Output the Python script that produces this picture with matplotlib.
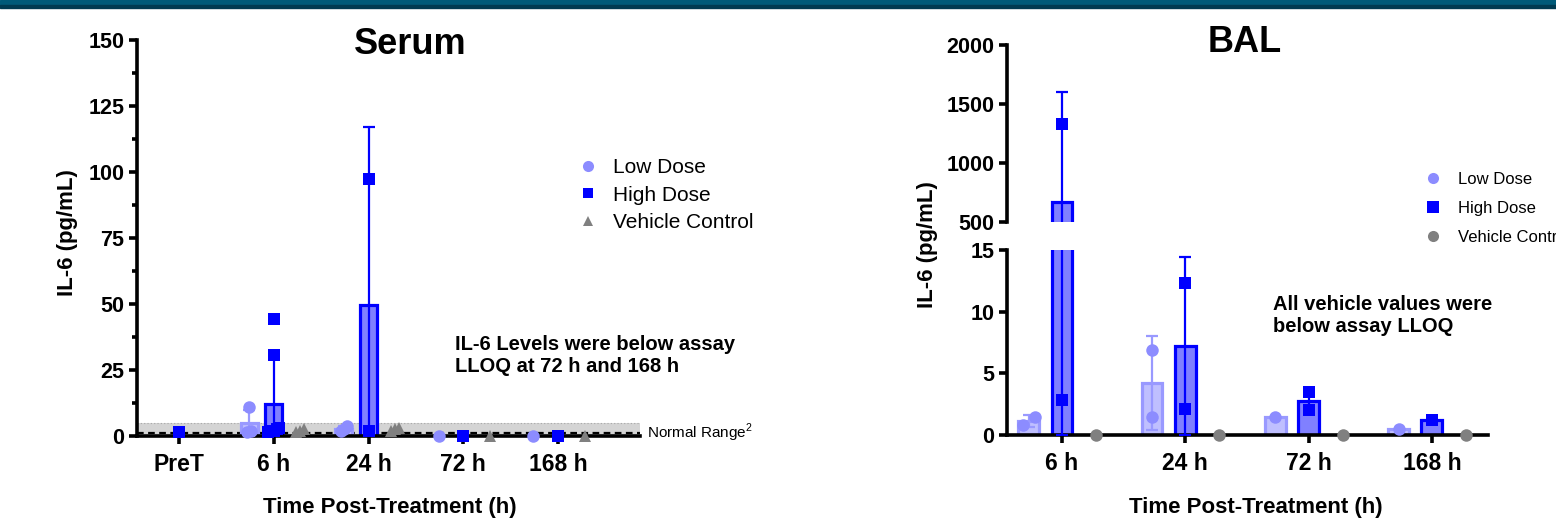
import numpy as np
import matplotlib
matplotlib.use("Agg")
import matplotlib.pyplot as plt
from matplotlib.lines import Line2D
from matplotlib.patches import Rectangle

plt.rcParams["font.family"] = ["Liberation Sans", "DejaVu Sans"]
plt.rcParams["mathtext.fontset"] = "custom"
plt.rcParams["mathtext.rm"] = "Liberation Sans"

W, H = 1556, 520

# ---- Serum data (pg/mL) ----
serum_cats = ["PreT", "6 h", "24 h", "72 h", "168 h"]
serum_pret = [1.5]
serum_low = [[10.8, 2.0, 1.5], [3.8, 2.5, 1.8], [0.0], [0.0]]
serum_high = [[44.2, 30.7, 3.0, 2.5, 2.0, 2.0, 1.5], [97.2, 2.0], [0.0], [0.0]]
serum_vehicle = [[2.8, 2.0, 1.5], [3.0, 2.5, 2.0], [0.0], [0.0]]
normal_range_top = 4.9
lloq_serum = 1.2

# ---- BAL data (pg/mL) ----
bal_cats = ["6 h", "24 h", "72 h", "168 h"]
bal_low = [[0.8, 1.5], [6.9, 1.5], [1.45], [0.5]]
bal_high = [[1330.0, 2.8], [12.3, 2.1], [3.5, 2.0], [1.2]]
bal_vehicle = [[0.0], [0.0], [0.0], [0.0]]

LOW_C = "#8c8cff"
LOW_FILL = "#bfbfff"
LOW_EDGE = "#9999ff"
HIGH_C = "#0000ff"
HIGH_FILL = "#8080ff"
VEH_C = "#808080"


def stats(vals):
    v = np.asarray(vals, dtype=float)
    sd = v.std(ddof=1) if len(v) > 1 else 0.0
    return v.mean(), sd


def spread(vals, tol, step):
    # nudge points sideways when they would overlap
    v = np.asarray(vals, dtype=float)
    order = np.argsort(v)
    offs = np.zeros(len(v))
    groups = [[order[0]]]
    for i in order[1:]:
        if v[i] - v[groups[-1][-1]] < tol:
            groups[-1].append(i)
        else:
            groups.append([i])
    for g in groups:
        n = len(g)
        for k, idx in enumerate(g):
            offs[idx] = (k - (n - 1) / 2) * step
    return offs


def style_axis(ax):
    for s in ["top", "right"]:
        ax.spines[s].set_visible(False)
    for s in ["left", "bottom"]:
        ax.spines[s].set_linewidth(2.6)
    ax.tick_params(axis="both", which="major", width=2.6, length=6, direction="out")
    ax.tick_params(axis="both", which="minor", width=2.6, length=3.5, direction="out")
    ax.tick_params(axis="y", labelsize=15.5, pad=3)
    ax.tick_params(axis="x", labelsize=16.5, pad=6)
    for lab in ax.get_xticklabels() + ax.get_yticklabels():
        lab.set_fontweight("bold")


def draw_group(axes, x, vals, width, fill, edge, ecol, pcol, marker, ms, tol, step, bar=True, elw=1.6):
    m, sd = stats(vals)
    offs = spread(vals, tol, step)
    for ax in axes:
        if bar:
            ax.bar(x, m, width, color=fill, edgecolor=edge, linewidth=2.3, zorder=2)
            if sd > 0:
                ax.errorbar(x, m, yerr=[[min(sd, m)], [sd]], fmt="none", ecolor=ecol,
                            elinewidth=elw, capsize=4.5, capthick=elw, zorder=3)
        ax.plot(x + offs, vals, ls="none", marker=marker, ms=ms, color=pcol,
                markeredgewidth=0, zorder=4, clip_on=False)


fig = plt.figure(figsize=(W / 100, H / 100), dpi=100)

# header band
fig.patches.append(Rectangle((0, 1 - 5 / H), 1, 5 / H, transform=fig.transFigure,
                             color="#005a78", zorder=0))
fig.patches.append(Rectangle((0, 1 - 7.5 / H), 1, 2.5 / H, transform=fig.transFigure,
                             color="#003a50", zorder=0))

# ================= Serum =================
ax = fig.add_axes([137 / W, 1 - 436 / H, (640 - 137) / W, (436 - 40) / H])
ax.set_xlim(-0.443, 4.865)
ax.set_ylim(0, 150)
ax.set_yticks(np.arange(0, 151, 25))
ax.set_yticks(np.arange(12.5, 150, 25), minor=True)
ax.set_xticks(range(len(serum_cats)))
ax.set_xticklabels(serum_cats)
style_axis(ax)

ax.axhspan(0, normal_range_top, color="#d4d4d4", zorder=0, lw=0)
ax.axhline(normal_range_top, color="#a8a8a8", lw=0.8, ls=(0, (1, 2)), zorder=1)
ax.axhline(lloq_serum, color="black", lw=1.6, ls=(0, (3, 2)), zorder=1)

off_s = 0.26
bw_s = 0.18
ax.plot(np.zeros(len(serum_pret)), serum_pret, ls="none", marker="s", ms=9,
        color=HIGH_C, markeredgewidth=0, zorder=4, clip_on=False)
for i in range(4):
    x0 = i + 1
    draw_group([ax], x0 - off_s, serum_low[i], bw_s, LOW_FILL, LOW_EDGE, LOW_EDGE, LOW_C, "o", 9, 3, 0.035)
    draw_group([ax], x0, serum_high[i], bw_s, HIGH_FILL, HIGH_C, HIGH_C, HIGH_C, "s", 8.5, 3, 0.03)
    draw_group([ax], x0 + off_s + 0.02, serum_vehicle[i], bw_s, None, None, None, VEH_C, "^", 9, 3, 0.04, bar=False)

ax.legend(handles=[
    Line2D([], [], ls="none", marker="o", ms=8, color=LOW_C, markeredgewidth=0, label="Low Dose"),
    Line2D([], [], ls="none", marker="s", ms=7.5, color=HIGH_C, markeredgewidth=0, label="High Dose"),
    Line2D([], [], ls="none", marker="^", ms=7.5, color=VEH_C, markeredgewidth=0, label="Vehicle Control"),
], loc="upper left", bbox_to_anchor=(578 / W, 1 - 158 / H), bbox_transform=fig.transFigure,
    frameon=False, fontsize=15, handlelength=1.0, handletextpad=0.7, labelspacing=0.42,
    borderpad=0, borderaxespad=0)

fig.text(410 / W, 1 - 45 / H, "Serum", fontsize=26, fontweight="bold", ha="center", va="center")
fig.text(67 / W, 1 - 233 / H, "IL-6 (pg/mL)", fontsize=16, fontweight="bold", rotation=90,
         ha="center", va="center")
fig.text(390 / W, 1 - 508 / H, "Time Post-Treatment (h)", fontsize=16, fontweight="bold",
         ha="center", va="center")
fig.text(455 / W, 1 - 355 / H, "IL-6 Levels were below assay\nLLOQ at 72 h and 168 h",
         fontsize=14.5, fontweight="bold", ha="left", va="center")
fig.text(647 / W, 1 - 433 / H, "Normal Range$^{2}$", fontsize=11, ha="left", va="center")

# ================= BAL (broken axis) =================
axt = fig.add_axes([1007 / W, 1 - 222 / H, 481 / W, (222 - 45) / H])
axb = fig.add_axes([1007 / W, 1 - 435 / H, 481 / W, (435 - 250) / H])
for a in (axt, axb):
    a.set_xlim(-0.446, 3.455)
axt.set_ylim(500, 2000)
axt.set_yticks([500, 1000, 1500, 2000])
axb.set_ylim(0, 15)
axb.set_yticks([0, 5, 10, 15])
axb.set_xticks(range(len(bal_cats)))
axb.set_xticklabels(bal_cats)
style_axis(axt)
style_axis(axb)
axt.spines["bottom"].set_visible(False)
axt.set_xticks([])

off_b = 0.27
bw_b = 0.17
for i in range(4):
    draw_group([axt, axb], i - off_b, bal_low[i], bw_b, LOW_FILL, LOW_EDGE, LOW_EDGE, LOW_C, "o", 9, 0.9, 0.1)
    draw_group([axt, axb], i, bal_high[i], bw_b, HIGH_FILL, HIGH_C, HIGH_C, HIGH_C, "s", 9, 0.9, 0.1)
    axb.plot([i + off_b + 0.005] * len(bal_vehicle[i]), bal_vehicle[i], ls="none", marker="o", ms=9,
             color=VEH_C, markeredgewidth=0, zorder=4, clip_on=False)

axb.legend(handles=[
    Line2D([], [], ls="none", marker="o", ms=8, color=LOW_C, markeredgewidth=0, label="Low Dose"),
    Line2D([], [], ls="none", marker="s", ms=8, color=HIGH_C, markeredgewidth=0, label="High Dose"),
    Line2D([], [], ls="none", marker="o", ms=8, color=VEH_C, markeredgewidth=0, label="Vehicle Control"),
], loc="upper left", bbox_to_anchor=(1425 / W, 1 - 172 / H), bbox_transform=fig.transFigure,
    frameon=False, fontsize=12, handlelength=1.0, handletextpad=1.0, labelspacing=0.85,
    borderpad=0, borderaxespad=0)

fig.text(1245 / W, 1 - 43 / H, "BAL", fontsize=26, fontweight="bold", ha="center", va="center")
fig.text(928 / W, 1 - 245 / H, "IL-6 (pg/mL)", fontsize=16, fontweight="bold", rotation=90,
         ha="center", va="center")
fig.text(1256 / W, 1 - 508 / H, "Time Post-Treatment (h)", fontsize=16, fontweight="bold",
         ha="center", va="center")
fig.text(1273 / W, 1 - 315 / H, "All vehicle values were\nbelow assay LLOQ",
         fontsize=14.5, fontweight="bold", ha="left", va="center")

fig.savefig("out.png", dpi=100)
